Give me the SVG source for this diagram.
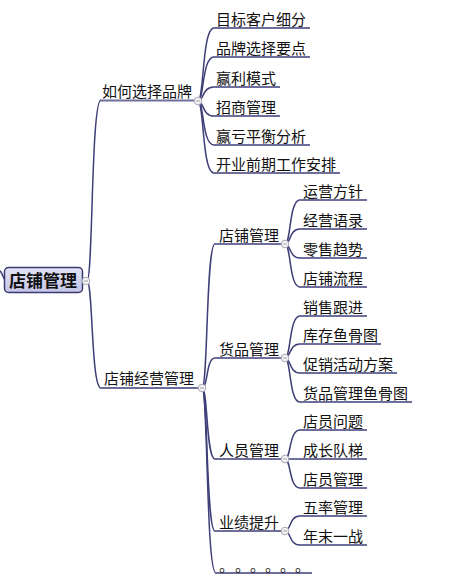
<svg xmlns="http://www.w3.org/2000/svg" width="465" height="583" viewBox="0 0 465 583">
<defs>
<linearGradient id="rootFill" x1="0" y1="0" x2="0" y2="1">
<stop offset="0" stop-color="#e4e4f6"/>
<stop offset="1" stop-color="#c4c4e6"/>
</linearGradient>
<g id="toggle">
<circle r="3.8" fill="#f4f4f4" stroke="#a8a8b8" stroke-width="1"/>
<line x1="-2" y1="0" x2="2" y2="0" stroke="#999" stroke-width="0.9"/>
</g>
</defs>
<style>
.c{fill:none;stroke:#3e3e78;stroke-width:1.5}
.u{stroke:#6e6e9c;stroke-width:2}
.t{font-family:"Noto Sans CJK SC","Noto Sans",sans-serif;font-size:15px;fill:#111}
.r{font-family:"Noto Sans CJK SC","Noto Sans",sans-serif;font-size:17px;font-weight:bold;fill:#111}
</style>
<rect width="465" height="583" fill="#ffffff"/>

<g id="connectors">
<path class="c" d="M0,271 C2,272 3,278 5,280"/>
<path class="c" d="M87,281 C93,281 91,100 101,100"/>
<path class="c" d="M87,281 C93,281 91,388 101,388"/>
<path class="c" d="M198,101 C204,101 202,28 214,28"/>
<path class="c" d="M198,101 C204,101 202,57 214,57"/>
<path class="c" d="M198,101 C204,101 202,87 214,87"/>
<path class="c" d="M198,101 C204,101 202,116 214,116"/>
<path class="c" d="M198,101 C204,101 202,145 214,145"/>
<path class="c" d="M198,101 C204,101 202,173 214,173"/>
<path class="c" d="M202,388 C208,388 206,244 215,244"/>
<path class="c" d="M202,388 C208,388 206,358 215,358"/>
<path class="c" d="M202,388 C208,388 206,459 215,459"/>
<path class="c" d="M202,388 C208,388 206,531 215,531"/>
<path class="c" d="M202,388 C208,388 206,573 216,573"/>
<path class="c" d="M285,244 C291,244 289,200 300,200"/>
<path class="c" d="M285,244 C291,244 289,229 300,229"/>
<path class="c" d="M285,244 C291,244 289,258 300,258"/>
<path class="c" d="M285,244 C291,244 289,287 300,287"/>
<path class="c" d="M285,358 C291,358 289,316 300,316"/>
<path class="c" d="M285,358 C291,358 289,344 300,344"/>
<path class="c" d="M285,358 C291,358 289,373 300,373"/>
<path class="c" d="M285,358 C291,358 289,402 300,402"/>
<path class="c" d="M285,459 C291,459 289,430 300,430"/>
<path class="c" d="M285,459 L300,459"/>
<path class="c" d="M285,459 C291,459 289,488 300,488"/>
<path class="c" d="M285,531 C291,531 289,516 300,516"/>
<path class="c" d="M285,531 C291,531 289,545 300,545"/>
</g>

<g id="root">
<rect x="4.5" y="267.5" width="78" height="25" rx="4" fill="url(#rootFill)" stroke="#3a3a72" stroke-width="1.5"/>
<text class="r" x="9" y="287">店铺管理</text>
<use href="#toggle" x="86" y="281"/>
</g>

<g id="n-brand">
<line class="u" x1="100" y1="100.5" x2="196" y2="100.5"/>
<text class="t" x="102" y="97">如何选择品牌</text>
<use href="#toggle" x="198" y="101"/>
</g>
<g id="n-b1"><line class="u" x1="213" y1="28" x2="310" y2="28"/><text class="t" x="216" y="25">目标客户细分</text></g>
<g id="n-b2"><line class="u" x1="213" y1="57" x2="310" y2="57"/><text class="t" x="216" y="54">品牌选择要点</text></g>
<g id="n-b3"><line class="u" x1="213" y1="87" x2="280" y2="87"/><text class="t" x="216" y="84">赢利模式</text></g>
<g id="n-b4"><line class="u" x1="213" y1="116" x2="280" y2="116"/><text class="t" x="216" y="113">招商管理</text></g>
<g id="n-b5"><line class="u" x1="213" y1="145" x2="310" y2="145"/><text class="t" x="216" y="142">赢亏平衡分析</text></g>
<g id="n-b6"><line class="u" x1="213" y1="173" x2="340" y2="173"/><text class="t" x="216" y="170">开业前期工作安排</text></g>

<g id="n-ops">
<line class="u" x1="100" y1="388" x2="200" y2="388"/>
<text class="t" x="104" y="384">店铺经营管理</text>
<use href="#toggle" x="202" y="388"/>
</g>

<g id="n-store">
<line class="u" x1="214" y1="244" x2="283" y2="244"/>
<text class="t" x="219" y="241">店铺管理</text>
<use href="#toggle" x="285" y="244"/>
</g>
<g id="n-s1"><line class="u" x1="299" y1="200" x2="367" y2="200"/><text class="t" x="303" y="197">运营方针</text></g>
<g id="n-s2"><line class="u" x1="299" y1="229" x2="367" y2="229"/><text class="t" x="303" y="226">经营语录</text></g>
<g id="n-s3"><line class="u" x1="299" y1="258" x2="367" y2="258"/><text class="t" x="303" y="255">零售趋势</text></g>
<g id="n-s4"><line class="u" x1="299" y1="287" x2="367" y2="287"/><text class="t" x="303" y="284">店铺流程</text></g>

<g id="n-goods">
<line class="u" x1="214" y1="358" x2="283" y2="358"/>
<text class="t" x="219" y="355">货品管理</text>
<use href="#toggle" x="285" y="358"/>
</g>
<g id="n-g1"><line class="u" x1="299" y1="316" x2="367" y2="316"/><text class="t" x="303" y="313">销售跟进</text></g>
<g id="n-g2"><line class="u" x1="299" y1="344" x2="381" y2="344"/><text class="t" x="303" y="341">库存鱼骨图</text></g>
<g id="n-g3"><line class="u" x1="299" y1="373" x2="397" y2="373"/><text class="t" x="303" y="370">促销活动方案</text></g>
<g id="n-g4"><line class="u" x1="299" y1="402" x2="412" y2="402"/><text class="t" x="303" y="399">货品管理鱼骨图</text></g>

<g id="n-staff">
<line class="u" x1="214" y1="459" x2="283" y2="459"/>
<text class="t" x="219" y="456">人员管理</text>
<use href="#toggle" x="285" y="459"/>
</g>
<g id="n-p1"><line class="u" x1="299" y1="430" x2="367" y2="430"/><text class="t" x="303" y="427">店员问题</text></g>
<g id="n-p2"><line class="u" x1="299" y1="459" x2="367" y2="459"/><text class="t" x="303" y="456">成长队梯</text></g>
<g id="n-p3"><line class="u" x1="299" y1="488" x2="367" y2="488"/><text class="t" x="303" y="485">店员管理</text></g>

<g id="n-perf">
<line class="u" x1="214" y1="531" x2="283" y2="531"/>
<text class="t" x="219" y="528">业绩提升</text>
<use href="#toggle" x="285" y="531"/>
</g>
<g id="n-f1"><line class="u" x1="299" y1="516" x2="367" y2="516"/><text class="t" x="303" y="513">五率管理</text></g>
<g id="n-f2"><line class="u" x1="299" y1="545" x2="367" y2="545"/><text class="t" x="303" y="542">年末一战</text></g>

<g id="n-more">
<line class="u" x1="215" y1="573" x2="312" y2="573"/>
<text class="t" x="219 235 250 265 280 295" y="571">。。。。。。</text>
</g>
</svg>
